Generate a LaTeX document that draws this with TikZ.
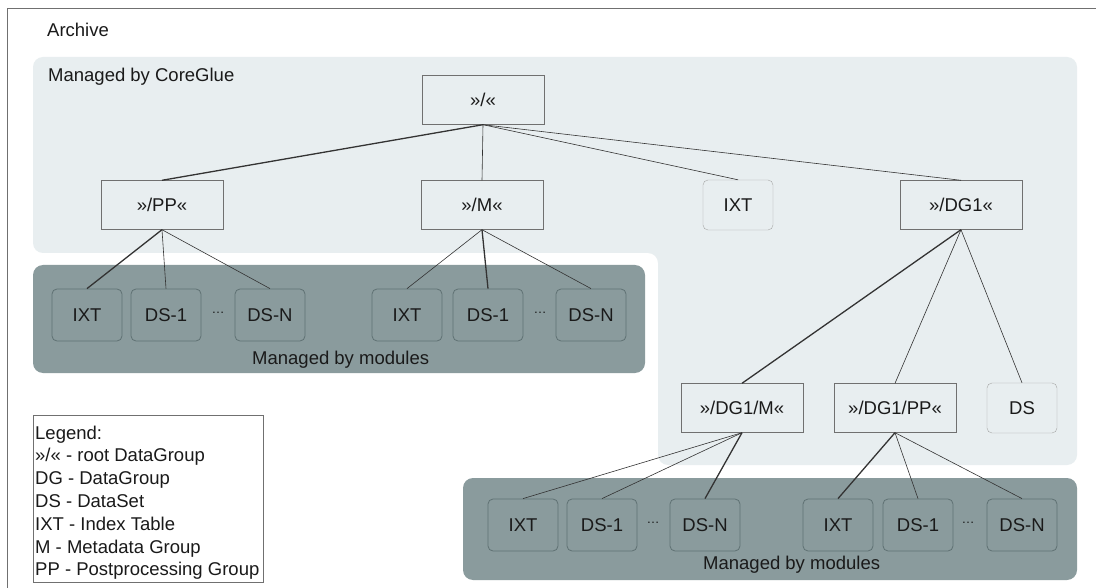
\documentclass[tikz,border=0pt]{standalone}
\usepackage{fontspec}
\setmainfont{Liberation Sans}
\usetikzlibrary{positioning}

\definecolor{coreglue}{HTML}{E8EEF0}
\definecolor{modules}{HTML}{8A9B9D}
\definecolor{groupline}{HTML}{707070}
\definecolor{dsline}{HTML}{A6A6A6}
\definecolor{modline}{HTML}{5F7173}
\definecolor{edgeline}{HTML}{333333}
\definecolor{textcol}{HTML}{1A1A1A}

\begin{document}
\begin{tikzpicture}[x=1pt,y=-1pt]
			\tikzset{every node/.style = {font=\fontsize{18.5}{22.8}\selectfont, 
					text=textcol}}
			\tikzset{group/.style = {shape=rectangle,draw=groupline,fill=coreglue,
					minimum width=122,minimum height=49,inner sep = 0pt}}
			\tikzset{dset/.style = {shape=rectangle,rounded corners=5pt,draw=dsline,
					minimum width=70,minimum height=50,inner sep = 0pt}}
			\tikzset{modset/.style = {dset,draw=modline,line width=0.8pt,fill=modules,
					minimum height=52}}
			\tikzset{dots/.style = {font=\fontsize{13}{13}\selectfont,inner sep=0pt}}
			\tikzset{label/.style = {anchor=base west,inner sep=0pt}}
			\tikzset{edge/.style = {draw=edgeline,line width=0.6pt}}
			\tikzset{edgebold/.style = {draw=edgeline,line width=1.3pt}}
			
			\useasboundingbox (0,0) rectangle (1096,588);
			\fill[white] (0,0) rectangle (1096,588);
			
			% areas
			\draw[groupline,line width=0.8pt] (7,588) -- (7,8) -- (1096,8);
			\fill[coreglue,rounded corners=10pt] (33,57) -- (1077,57) -- (1077,465) 
			-- (658,465) -- (658,253) -- (33,253) -- cycle;
			\fill[modules,rounded corners=10pt] (33,265) rectangle (645,373);
			\fill[modules,rounded corners=10pt] (463,478) rectangle (1077,580);
			\draw[groupline,fill=white] (33,415) rectangle (263,582);
			
			\node[label] (archive) at (47,37) {Archive};
			\node[label] (coreglue) at (48,82) {Managed by CoreGlue};
			\node[label] (modleft) at (252,364) {Managed by modules};
			\node[label] (modright) at (703,569) {Managed by modules};
			\node[anchor=north west,inner sep=0pt,align=left] (legend) at (35,425.5) 
			{Legend:\\»/« - root DataGroup\\DG - DataGroup\\DS - DataSet\\
				IXT - Index Table\\M - Metadata Group\\PP - Postprocessing Group};
			
			% vertices
			\node[group] (root) at (483,100) {»/«};
			\node[group] (pp) at (162,205) {»/PP«};
			\node[group] (m) at (482,205) {»/M«};
			\node[dset] (ixt) at (738,205) {IXT};
			\node[group] (dg) at (961,205) {»/DG1«};
			\node[group] (dgm) at (742,408) {»/DG1/M«};
			\node[group] (dgpp) at (895,408) {»/DG1/PP«};
			\node[dset] (ds) at (1022,408) {DS};
			
			\node[modset] (ppixt) at (87,315) {IXT};
			\node[modset] (ppdsa) at (166,315) {DS-1};
			\node[dots] (ppdots) at (218,313) {…};
			\node[modset] (ppdsn) at (270,315) {DS-N};
			\node[modset] (mixt) at (407,315) {IXT};
			\node[modset] (mdsa) at (488,315) {DS-1};
			\node[dots] (mdots) at (540,313) {…};
			\node[modset] (mdsn) at (591,315) {DS-N};
			
			\node[modset] (dgmixt) at (523,525) {IXT};
			\node[modset] (dgmdsa) at (602,525) {DS-1};
			\node[dots] (dgmdots) at (653,523) {…};
			\node[modset] (dgmdsn) at (705,525) {DS-N};
			\node[modset] (dgppixt) at (838,525) {IXT};
			\node[modset] (dgppdsa) at (918,525) {DS-1};
			\node[dots] (dgppdots) at (968,523) {…};
			\node[modset] (dgppdsn) at (1022,525) {DS-N};
			
			%edges
			\draw[edgebold] (root.south) -- (pp.north);
			\draw[edge] (root.south) -- (m.north);
			\draw[edge] (root.south) -- (ixt.north);
			\draw[edge] (root.south) -- (dg.north);
			
			\draw[edgebold] (pp.south) -- (ppixt.north);
			\draw[edge] (pp.south) -- (ppdsa.north);
			\draw[edge] (pp.south) -- (ppdsn.north);
			\draw[edge] (m.south) -- (mixt.north);
			\draw[edgebold] (m.south) -- (mdsa.north);
			\draw[edge] (m.south) -- (mdsn.north);
			
			\draw[edgebold] (dg.south) -- (dgm.north);
			\draw[edge] (dg.south) -- (dgpp.north);
			\draw[edge] (dg.south) -- (ds.north);
			
			\draw[edge] (dgm.south) -- (dgmixt.north);
			\draw[edge] (dgm.south) -- (dgmdsa.north);
			\draw[edgebold] (dgm.south) -- (dgmdsn.north);
			\draw[edgebold] (dgpp.south) -- (dgppixt.north);
			\draw[edge] (dgpp.south) -- (dgppdsa.north);
			\draw[edge] (dgpp.south) -- (dgppdsn.north);
			
\end{tikzpicture}
\end{document}
